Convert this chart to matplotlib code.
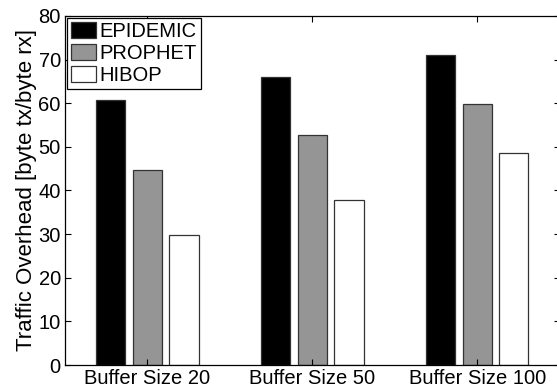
import matplotlib
matplotlib.use("Agg")
import matplotlib.pyplot as plt
import numpy as np

plt.rcParams['font.family'] = ['Liberation Sans', 'DejaVu Sans']

groups = ["Buffer Size 20", "Buffer Size 50", "Buffer Size 100"]
protocols = ["EPIDEMIC", "PROPHET", "HIBOP"]
epidemic = [60.8, 65.9, 71.1]
prophet = [44.8, 52.8, 59.9]
hibop = [29.8, 37.9, 48.6]
colors = ["#000000", "#959595", "#ffffff"]

fig = plt.figure(figsize=(5.57, 3.90), dpi=100)
ax = fig.add_axes([0.1167, 0.0641, 0.888, 0.895])

x = np.arange(1, len(groups) + 1)
step = 0.2222
width = 0.178
for k, (vals, name) in enumerate(zip([epidemic, prophet, hibop], protocols)):
    ax.bar(x + (k - 1) * step, vals, width, color=colors[k],
           edgecolor="#333333", linewidth=0.9, label=name)

ax.set_xlim(0.5, 3.5)
ax.set_ylim(0, 80)
ax.set_xticks(x)
ax.set_xticklabels(groups)
ax.set_yticks(np.arange(0, 81, 10))
ax.tick_params(direction='in', top=True, right=True, labelsize=14.5,
               length=4, width=0.8, pad=3)
for s in ax.spines.values():
    s.set_linewidth(0.9)
ax.set_ylabel("Traffic Overhead [byte tx/byte rx]", fontsize=16, labelpad=1)

leg = ax.legend(loc='upper left', fontsize=14.5, fancybox=False,
                edgecolor='black', framealpha=1, borderaxespad=0.1,
                handlelength=1.25, handleheight=0.85, handletextpad=0.15,
                labelspacing=0.15, borderpad=0.2)
leg.get_frame().set_linewidth(0.9)

fig.savefig("out.png", dpi=100)
